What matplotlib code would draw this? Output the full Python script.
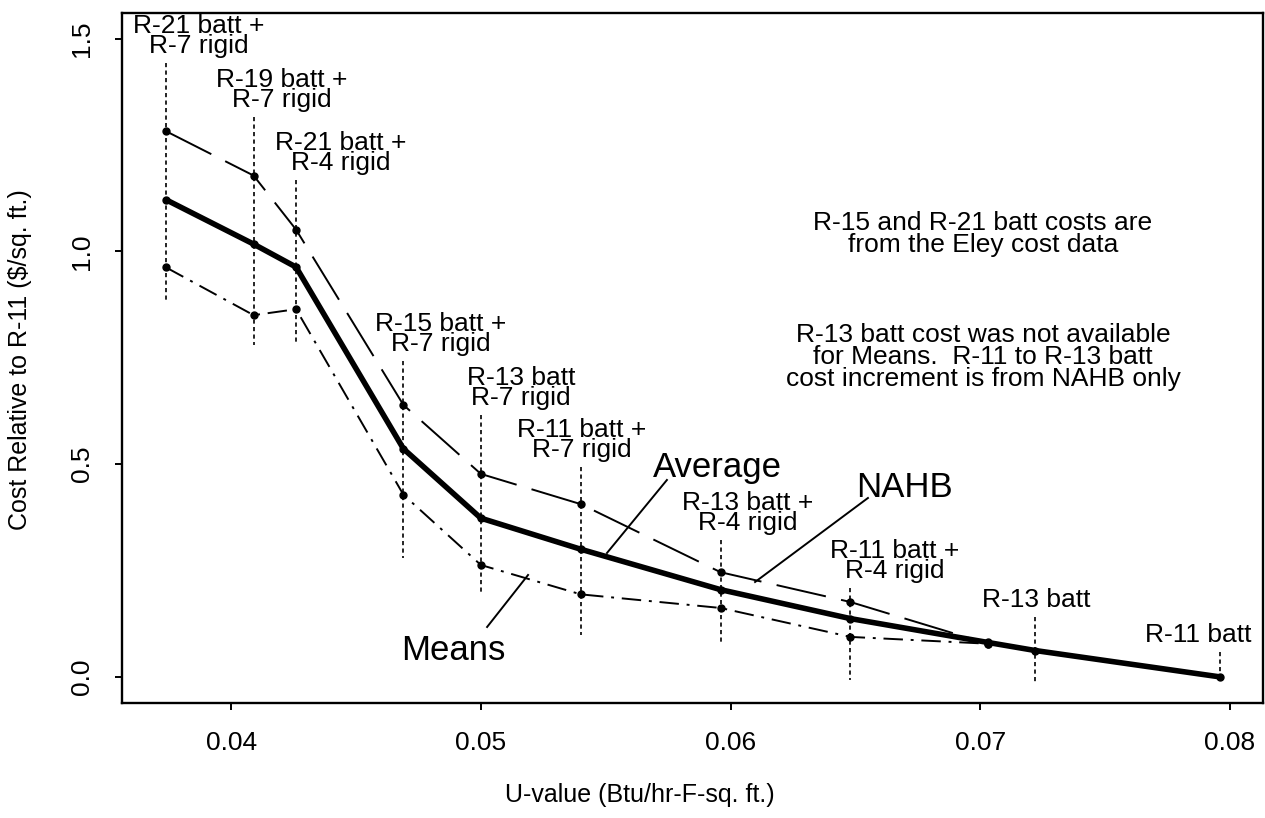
import numpy as np
import matplotlib
matplotlib.use("Agg")
import matplotlib.pyplot as plt

plt.rcParams["font.family"] = ["Liberation Sans", "DejaVu Sans"]

# U-value of each wall assembly (Btu/hr-F-sq. ft.)
u_value = [0.0374, 0.0409, 0.0426, 0.0469, 0.0500, 0.0540, 0.0596, 0.0648, 0.0703, 0.0722, 0.0796]

# Cost relative to R-11 batt ($/sq. ft.)
nahb_cost = [1.282, 1.178, 1.051, 0.639, 0.477, 0.406, 0.246, 0.176, 0.078, np.nan, np.nan]
means_cost = [0.962, 0.850, 0.864, 0.428, 0.263, 0.194, 0.162, 0.094, 0.078, np.nan, np.nan]
average_cost = [1.121, 1.017, 0.963, 0.536, 0.373, 0.300, 0.205, 0.137, 0.081, 0.062, 0.0]

# Assemblies that get a label and a dotted guide (index into u_value)
labeled_idx = [0, 1, 2, 3, 4, 5, 6, 7, 9, 10]
assembly_labels = [
    "R-21 batt +\nR-7 rigid",
    "R-19 batt +\nR-7 rigid",
    "R-21 batt +\nR-4 rigid",
    "R-15 batt +\nR-7 rigid",
    "R-13 batt\nR-7 rigid",
    "R-11 batt +\nR-7 rigid",
    "R-13 batt +\nR-4 rigid",
    "R-11 batt +\nR-4 rigid",
    "R-13 batt",
    "R-11 batt",
]

x_ticks = [0.04, 0.05, 0.06, 0.07, 0.08]
y_ticks = [0.0, 0.5, 1.0, 1.5]

# Label placement (x centre, bottom of text block) and lower end of each guide
label_x = [0.03871, 0.04204, 0.04440, 0.04840, 0.05161, 0.05405, 0.06070, 0.06658, 0.07223, 0.07872]
label_y = [1.454, 1.327, 1.179, 0.754, 0.627, 0.505, 0.333, 0.221, 0.1525, 0.0703]
guide_low = [0.879, 0.780, 0.780, 0.279, 0.200, 0.099, 0.075, -0.007, -0.012, 0.0]

W, H = 1265, 818
fig = plt.figure(figsize=(W / 100, H / 100), dpi=100)
ax = fig.add_axes([122 / W, 1 - 703 / H, (1263 - 122) / W, (703 - 13) / H])
ax.set_xlim(0.03563, 0.08132)
ax.set_ylim(-0.0613, 1.560)

# Dotted guides from each label down past the lowest estimate
for k, i in enumerate(labeled_idx):
    ax.plot([u_value[i], u_value[i]], [label_y[k] - 0.012, guide_low[k]],
            color="black", lw=1.2, linestyle=(0, (2.5, 2.0)), zorder=1)

# Cost curves
ax.plot(u_value, nahb_cost, color="black", lw=1.4, dashes=(26, 8),
        marker="o", ms=5, zorder=3)
ax.plot(u_value, means_cost, color="black", lw=1.4, dashes=(10, 4, 1.5, 4),
        marker="o", ms=5, zorder=3)
ax.plot(u_value, average_cost, color="black", lw=4.0, solid_capstyle="round",
        marker="o", ms=5, zorder=4)

# Assembly labels
for k in range(len(labeled_idx)):
    ax.text(label_x[k], label_y[k], assembly_labels[k], ha="center", va="bottom",
            fontsize=19, linespacing=0.78, zorder=5)

# Series call-outs with leader lines
ax.text(0.05946, 0.4697, "Average", ha="center", va="baseline", fontsize=25)
ax.plot([0.05745, 0.05505], [0.4627, 0.2912], color="black", lw=1.4)
ax.text(0.06698, 0.4228, "NAHB", ha="center", va="baseline", fontsize=25)
ax.plot([0.06550, 0.06098], [0.4204, 0.2230], color="black", lw=1.4)
ax.text(0.04888, 0.0397, "Means", ha="center", va="baseline", fontsize=25)
ax.plot([0.05025, 0.05189], [0.1173, 0.2395], color="black", lw=1.4)

# Source notes
ax.text(0.07011, 1.095, "R-15 and R-21 batt costs are\nfrom the Eley cost data",
        ha="center", va="top", fontsize=19, linespacing=0.9)
ax.text(0.07011, 0.832,
        "R-13 batt cost was not available\nfor Means.  R-11 to R-13 batt\ncost increment is from NAHB only",
        ha="center", va="top", fontsize=19, linespacing=0.9)

# Axes styling
for s in ax.spines.values():
    s.set_linewidth(1.7)
ax.set_xticks(x_ticks)
ax.set_xticklabels([f"{t:.2f}" for t in x_ticks])
ax.set_yticks(y_ticks)
ax.set_yticklabels([f"{t:.1f}" for t in y_ticks], rotation=90, va="center")
ax.tick_params(axis="both", direction="out", length=5, width=1.4, labelsize=19)
ax.tick_params(axis="x", pad=15)
ax.tick_params(axis="y", pad=15)

fig.text(640 / W, 1 - 795 / H, "U-value (Btu/hr-F-sq. ft.)", ha="center",
         va="center", fontsize=18)
fig.text(20 / W, 1 - 360 / H, "Cost Relative to R-11 ($/sq. ft.)", ha="center",
         va="center", rotation=90, fontsize=18)

fig.savefig("out.png", dpi=100)
